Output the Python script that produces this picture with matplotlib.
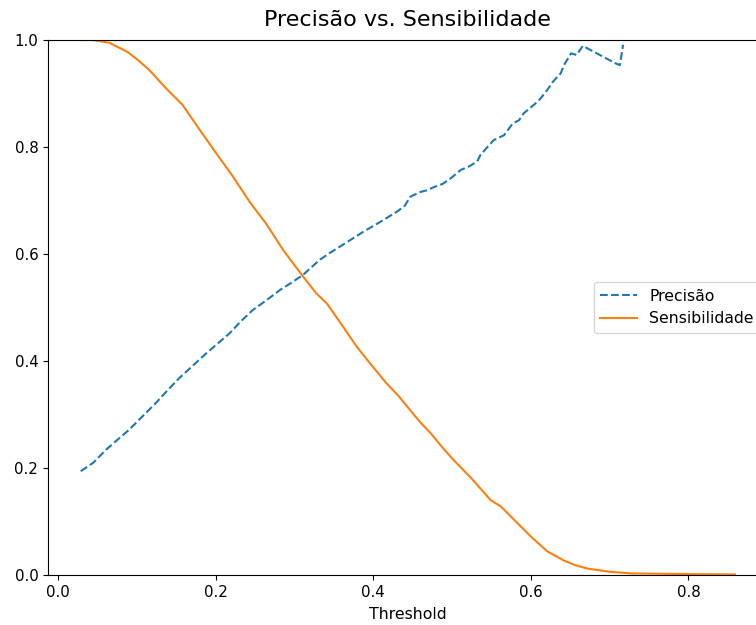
import matplotlib.pyplot as plt
import numpy as np

# precision vs threshold
thr_prec = [0.029, 0.045, 0.061, 0.075, 0.090, 0.107, 0.124, 0.139, 0.154, 0.171,
            0.188, 0.203, 0.218, 0.232, 0.247, 0.265, 0.282, 0.297, 0.311, 0.332,
            0.345, 0.358, 0.373, 0.388, 0.409, 0.430, 0.440, 0.447, 0.460, 0.468,
            0.477, 0.488, 0.498, 0.511, 0.522, 0.532, 0.536, 0.545, 0.553, 0.566,
            0.577, 0.585, 0.591, 0.604, 0.612, 0.621, 0.628, 0.638, 0.642, 0.651,
            0.658, 0.666, 0.676, 0.708, 0.713, 0.717]
precisao = [0.194, 0.210, 0.234, 0.252, 0.271, 0.296, 0.321, 0.345, 0.368, 0.391,
            0.414, 0.433, 0.452, 0.474, 0.495, 0.514, 0.533, 0.547, 0.561, 0.589,
            0.602, 0.614, 0.628, 0.642, 0.660, 0.679, 0.690, 0.707, 0.716, 0.719,
            0.725, 0.731, 0.741, 0.757, 0.764, 0.773, 0.785, 0.800, 0.813, 0.822,
            0.844, 0.850, 0.863, 0.879, 0.890, 0.907, 0.922, 0.938, 0.953, 0.975,
            0.972, 0.989, 0.981, 0.956, 0.953, 0.991]

# recall vs threshold
thr_sens = [0.029, 0.044, 0.065, 0.088, 0.102, 0.116, 0.137, 0.158, 0.180, 0.201,
            0.222, 0.243, 0.265, 0.286, 0.311, 0.328, 0.341, 0.360, 0.379, 0.398,
            0.417, 0.432, 0.447, 0.460, 0.473, 0.488, 0.502, 0.525, 0.549, 0.562,
            0.581, 0.600, 0.621, 0.642, 0.657, 0.672, 0.700, 0.727, 0.780, 0.859]
sensibilidade = [1.0, 1.0, 0.995, 0.978, 0.962, 0.944, 0.910, 0.879, 0.832, 0.788,
                 0.745, 0.698, 0.655, 0.607, 0.558, 0.526, 0.508, 0.468, 0.427, 0.392,
                 0.358, 0.335, 0.308, 0.285, 0.265, 0.238, 0.215, 0.180, 0.140, 0.128,
                 0.100, 0.072, 0.044, 0.027, 0.018, 0.012, 0.006, 0.003, 0.002, 0.001]


def draw_plot():
    fig = plt.figure(figsize=(7.56, 6.25), dpi=100)
    ax = fig.add_axes([0.0635, 0.08, 0.952, 0.856])

    ax.plot(thr_prec, precisao, '--', label='Precisão')
    ax.plot(thr_sens, sensibilidade, '-', label='Sensibilidade')

    ax.set_ylim(0, 1)
    ax.tick_params(labelsize=10.8)
    ax.set_xlabel('Threshold', fontsize=11.3, labelpad=5)
    ax.set_title('Precisão vs. Sensibilidade', fontsize=16, pad=10)
    ax.legend(loc='center right', fontsize=11.3, handlelength=2.3)

    fig.savefig('out.png', dpi=100)


def main():
    draw_plot()


if __name__ == "__main__":
    main()
